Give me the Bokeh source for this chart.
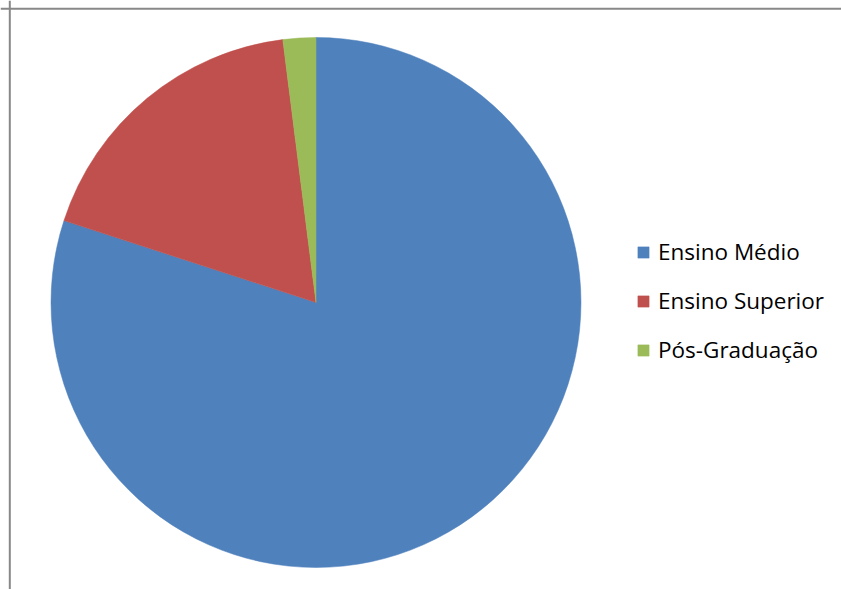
import math
from bokeh.plotting import figure
from bokeh.models import ColumnDataSource, Range1d, Span, Legend, LegendItem
from bokeh.embed import file_html
from bokeh.resources import INLINE

categories = ["Ensino Médio", "Ensino Superior", "Pós-Graduação"]
shares = [80, 18, 2]
colors = ["#4F81BD", "#C0504D", "#9BBB59"]

W, H = 841, 589
p = figure(width=W, height=H, output_backend="svg", toolbar_location=None,
           x_range=Range1d(0, W), y_range=Range1d(0, H),
           x_axis_location=None, y_axis_location=None, min_border=0,
           outline_line_color=None, match_aspect=False)
p.grid.visible = False
p.background_fill_color = "white"
p.border_fill_color = "white"

total = sum(shares)
starts, ends = [], []
a = math.pi / 2
for s in shares:
    starts.append(a)
    a -= 2 * math.pi * s / total
    ends.append(a)

src = ColumnDataSource(dict(cat=categories, val=shares, color=colors,
                            start=starts, end=ends))
cx, cy, r = 315.5, 287, 265
wr = p.wedge(x=cx, y=cy, radius=r, start_angle="start", end_angle="end",
             direction="clock", fill_color="color", line_color="color",
             line_width=0.5, source=src)

p.add_layout(Span(location=9.3, dimension="height", line_color="#888888", line_width=2))
p.add_layout(Span(location=H - 8.3, dimension="width", line_color="#888888", line_width=2))

legend = Legend(items=[LegendItem(label=c, renderers=[wr], index=i) for i, c in enumerate(categories)],
                location=(636, 224), orientation="vertical",
                glyph_width=14, glyph_height=14, label_height=30, spacing=18,
                label_standoff=8, padding=0, margin=0,
                border_line_color=None, background_fill_alpha=0,
                label_text_font="Open Sans", label_text_font_size="22.5px",
                label_text_color="#000000", label_text_baseline="middle")
p.add_layout(legend)

open("out.html", "w").write(file_html(p, INLINE))
